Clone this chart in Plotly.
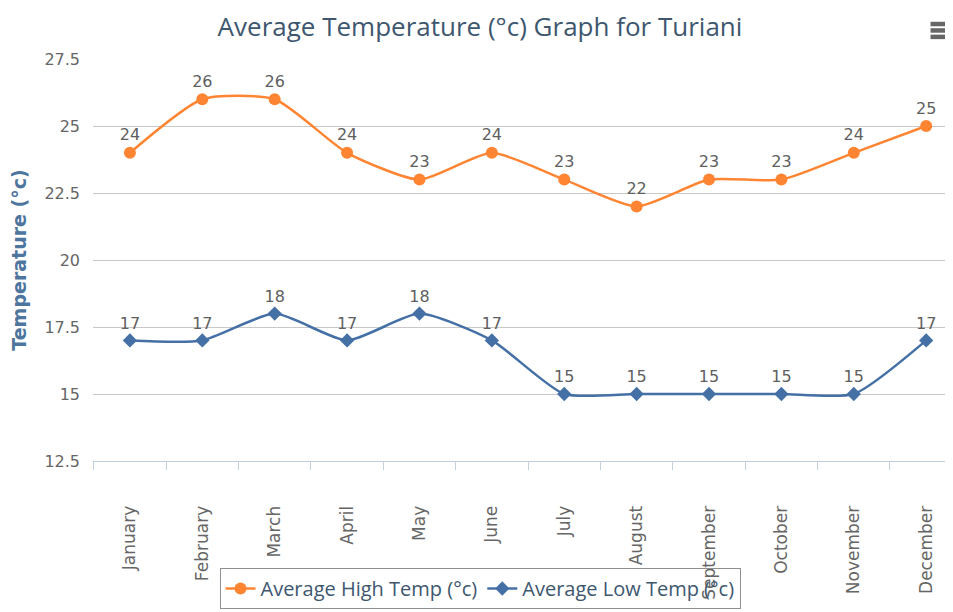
import plotly.graph_objects as go

months = ["January", "February", "March", "April", "May", "June", "July",
          "August", "September", "October", "November", "December"]
high_temp = [24, 26, 26, 24, 23, 24, 23, 22, 23, 23, 24, 25]
low_temp = [17, 17, 18, 17, 18, 17, 15, 15, 15, 15, 15, 17]
y_ticks = [12.5, 15, 17.5, 20, 22.5, 25, 27.5]
y_tick_text = ["12.5", "15", "17.5", "20", "22.5", "25", "27.5"]

ORANGE = "#FF8533"
BLUE = "#4470A6"
FONT = "DejaVu Sans"
W, H = 945, 604  # page body has an 8px margin

fig = go.Figure()
fig.add_trace(go.Scatter(
    x=months, y=high_temp, name="Average High Temp (°c)",
    mode="lines+markers+text", text=[str(v) for v in high_temp],
    textposition="top center",
    textfont=dict(family=FONT, size=16, color="#606060"),
    line=dict(color=ORANGE, width=2.5, shape="spline", smoothing=0.6),
    marker=dict(symbol="circle", size=12, color=ORANGE),
    cliponaxis=False,
))
fig.add_trace(go.Scatter(
    x=months, y=low_temp, name="Average Low Temp (°c)",
    mode="lines+markers+text", text=[str(v) for v in low_temp],
    textposition="top center",
    textfont=dict(family=FONT, size=16, color="#606060"),
    line=dict(color=BLUE, width=2.5, shape="spline", smoothing=0.6),
    marker=dict(symbol="diamond", size=11, color=BLUE),
    cliponaxis=False,
))

# export-menu icon (three bars)
for yb in (1.087, 1.071, 1.055):
    fig.add_shape(type="line", xref="paper", yref="paper",
                  x0=0.983, x1=1.007, y0=yb, y1=yb,
                  line=dict(color="#666666", width=4.5))

fig.update_layout(
    width=W, height=H,
    margin=dict(l=85, r=8, t=51, b=151, autoexpand=False),
    paper_bgcolor="white", plot_bgcolor="white",
    title=dict(text="Average Temperature (°c) Graph for Turiani",
               x=472 / W, xref="container", xanchor="center",
               y=1 - 19 / H, yref="container", yanchor="middle",
               font=dict(family="Open Sans", size=26, color="#3E576F")),
    showlegend=True,
    legend=dict(orientation="h", xref="container", yref="container",
                x=472 / W, xanchor="center", y=1 - 560 / H, yanchor="top",
                bgcolor="rgba(0,0,0,0)", bordercolor="#909090", borderwidth=1,
                font=dict(family="Open Sans", size=20, color="#3E576F"),
                itemwidth=30),
    xaxis=dict(
        type="category", categoryorder="array", categoryarray=months,
        range=[-0.51, 11.26],
        tickangle=-90, tickson="boundaries", ticks="outside", ticklen=8,
        tickcolor="#C0D0E0", showline=True, linecolor="#C0D0E0", linewidth=1,
        showgrid=False, ticklabelstandoff=37,
        tickfont=dict(family=FONT, size=17, color="#666666"),
    ),
    yaxis=dict(
        range=[12.5, 27.5], tickvals=y_ticks, ticktext=y_tick_text,
        showgrid=True, gridcolor="#C8C8C8", gridwidth=1, zeroline=False,
        ticks="", ticklabelstandoff=12,
        tickfont=dict(family=FONT, size=16, color="#666666"),
        title=dict(text="<b>Temperature (°c)</b>", standoff=13,
                   font=dict(family=FONT, size=19, color="#4D759E")),
    ),
)

fig.write_html("out.html")
